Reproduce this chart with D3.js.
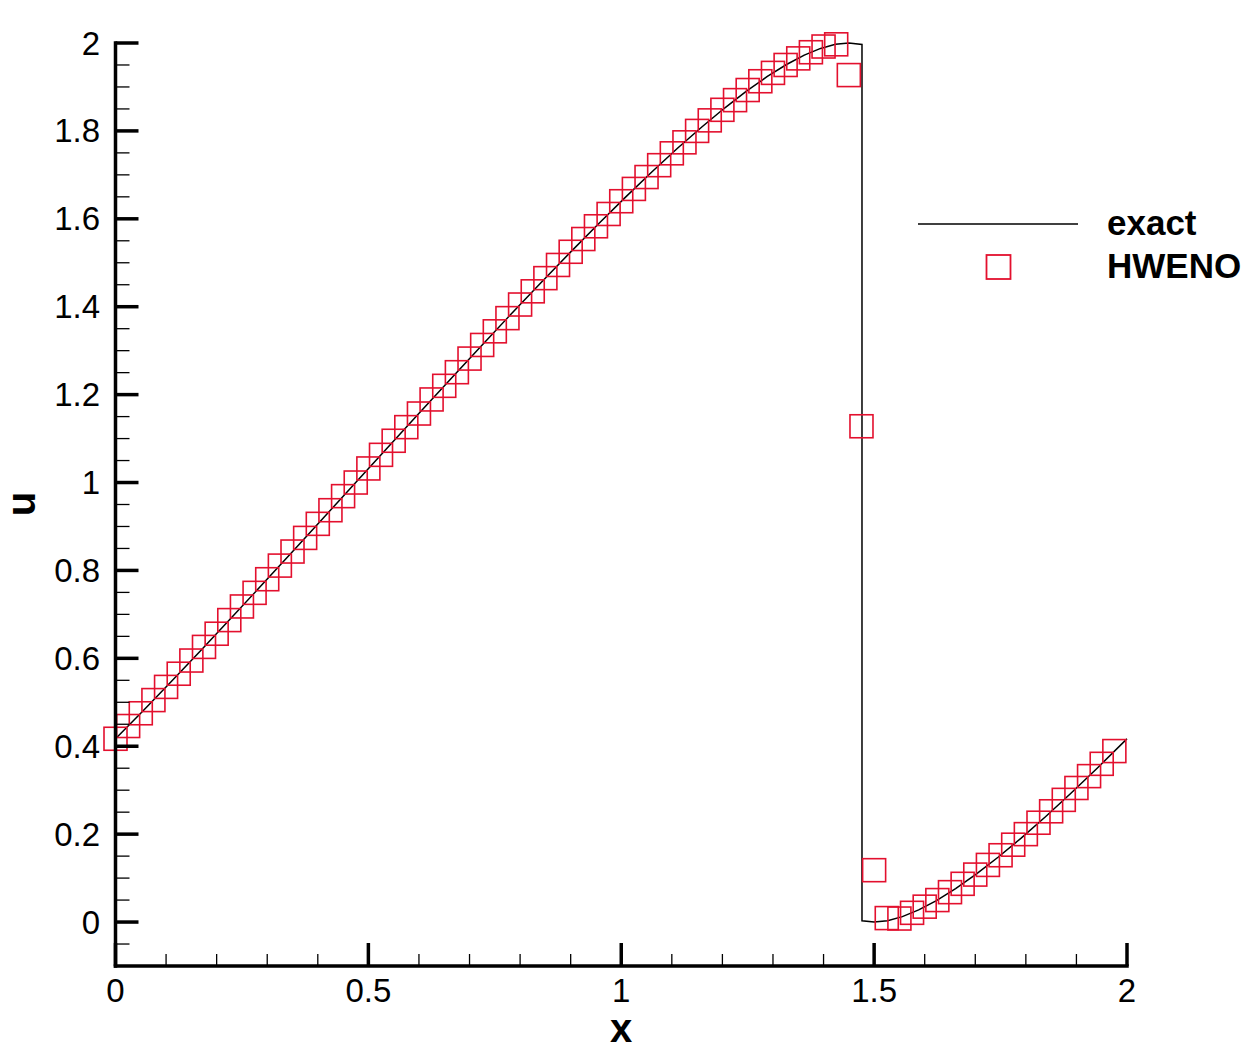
<!DOCTYPE html>
<html>
<head>
<meta charset="utf-8">
<script src="https://cdn.jsdelivr.net/npm/d3@7"></script>
<style>
  html, body { margin: 0; padding: 0; background: #fff; }
  svg { display: block; }
  text { font-family: "Liberation Sans", Arial, Helvetica, sans-serif; fill: #000; }
</style>
</head>
<body>
<svg id="chart" width="1250" height="1050"></svg>
<script>
// ---- data ----
const markerX = [
  0.000,0.025,0.050,0.075,0.100,0.125,0.150,0.175,0.200,0.225,
  0.250,0.275,0.300,0.325,0.350,0.375,0.400,0.425,0.450,0.475,
  0.500,0.525,0.550,0.575,0.600,0.625,0.650,0.675,0.700,0.725,
  0.750,0.775,0.800,0.825,0.850,0.875,0.900,0.925,0.950,0.975,
  1.000,1.025,1.050,1.075,1.100,1.125,1.150,1.175,1.200,1.225,
  1.250,1.275,1.300,1.325,1.350,1.375,1.400,1.425,1.450,1.475,
  1.500,1.525,1.550,1.575,1.600,1.625,1.650,1.675,1.700,1.725,
  1.750,1.775,1.800,1.825,1.850,1.875,1.900,1.925,1.950,1.975
];
const markerU = [
  0.417,0.446,0.475,0.505,0.535,0.565,0.595,0.626,0.656,0.687,
  0.718,0.749,0.780,0.811,0.843,0.874,0.906,0.937,0.969,1.000,
  1.032,1.063,1.095,1.126,1.157,1.189,1.220,1.251,1.282,1.313,
  1.344,1.374,1.405,1.435,1.465,1.495,1.525,1.554,1.583,1.611,
  1.640,1.668,1.695,1.722,1.749,1.774,1.800,1.824,1.848,1.870,
  1.893,1.913,1.932,1.950,1.965,1.979,1.992,1.997,1.927,1.128,
  0.118,0.009,0.008,0.021,0.035,0.050,0.068,0.087,0.108,0.130,
  0.152,0.176,0.200,0.226,0.252,0.278,0.305,0.332,0.360,0.389
];
const exactX = [
  0.0000,0.0518,0.1094,0.1682,0.2282,0.2891,0.3507,0.4127,0.4750,0.5373,
  0.5993,0.6609,0.7218,0.7818,0.8407,0.8982,0.9542,1.0085,1.0609,1.1112,
  1.1593,1.2050,1.2482,1.2889,1.3268,1.3619,1.3942,1.4235,1.4500,1.4760,
  1.4760,1.5000,1.5265,1.5558,1.5881,1.6232,1.6611,1.7018,1.7450,1.7907,
  1.8388,1.8891,1.9415,1.9958,2.0000
];
const exactU = [
  0.4171,0.4775,0.5460,0.6173,0.6910,0.7666,0.8436,0.9215,1.0000,1.0785,
  1.1564,1.2334,1.3090,1.3827,1.4540,1.5225,1.5878,1.6494,1.7071,1.7604,
  1.8090,1.8526,1.8910,1.9239,1.9511,1.9724,1.9877,1.9969,2.0000,1.9966,
  0.0030,0.0000,0.0031,0.0123,0.0276,0.0489,0.0761,0.1090,0.1474,0.1910,
  0.2396,0.2929,0.3506,0.4122,0.4171
];
const xTickValues = [0, 0.5, 1, 1.5, 2];
const xTickLabels = ["0", "0.5", "1", "1.5", "2"];
const yTickValues = [0, 0.2, 0.4, 0.6, 0.8, 1, 1.2, 1.4, 1.6, 1.8, 2];
const yTickLabels = ["0", "0.2", "0.4", "0.6", "0.8", "1", "1.2", "1.4", "1.6", "1.8", "2"];
const xMinor = [0.1,0.2,0.3,0.4,0.6,0.7,0.8,0.9,1.1,1.2,1.3,1.4,1.6,1.7,1.8,1.9];
const yMinor = [-0.05,0.05,0.1,0.15,0.25,0.3,0.35,0.45,0.5,0.55,0.65,0.7,0.75,0.85,0.9,0.95,
  1.05,1.1,1.15,1.25,1.3,1.35,1.45,1.5,1.55,1.65,1.7,1.75,1.85,1.9,1.95];
const seriesNames = ["exact", "HWENO"];

// ---- layout ----
const svg = d3.select("#chart");
const x = d3.scaleLinear().domain([0, 2]).range([115.5, 1127]);
const y = d3.scaleLinear().domain([-0.1, 2]).range([966, 43]);
const red = "#e3102e";
const sq = 23;

// exact line
const line = d3.line().x((d, i) => x(exactX[i])).y((d, i) => y(exactU[i]));
svg.append("path")
  .datum(exactU)
  .attr("d", line)
  .attr("fill", "none")
  .attr("stroke", "#000")
  .attr("stroke-width", 1.5);

// HWENO markers
svg.append("g").selectAll("rect")
  .data(markerU)
  .join("rect")
  .attr("x", (d, i) => x(markerX[i]) - sq / 2)
  .attr("y", d => y(d) - sq / 2)
  .attr("width", sq)
  .attr("height", sq)
  .attr("fill", "none")
  .attr("stroke", red)
  .attr("stroke-width", 1.6);

// axes
const axG = svg.append("g");
axG.append("line")
  .attr("x1", x(0) - 1.75).attr("x2", x(2) + 1.75)
  .attr("y1", y(-0.1)).attr("y2", y(-0.1))
  .attr("stroke", "#000").attr("stroke-width", 3.5);
axG.append("line")
  .attr("x1", x(0)).attr("x2", x(0))
  .attr("y1", y(2) - 1.75).attr("y2", y(-0.1) + 1.75)
  .attr("stroke", "#000").attr("stroke-width", 3.5);

// x ticks
axG.selectAll(".xmaj").data(xTickValues).join("line")
  .attr("x1", d => x(d)).attr("x2", d => x(d))
  .attr("y1", y(-0.1)).attr("y2", y(-0.1) - 23)
  .attr("stroke", "#000").attr("stroke-width", 3.5);
axG.selectAll(".xmin").data(xMinor).join("line")
  .attr("x1", d => x(d)).attr("x2", d => x(d))
  .attr("y1", y(-0.1)).attr("y2", y(-0.1) - 12)
  .attr("stroke", "#000").attr("stroke-width", 1.3);
axG.selectAll(".xlab").data(xTickValues).join("text")
  .attr("x", d => x(d)).attr("y", 1002)
  .attr("text-anchor", "middle")
  .attr("font-size", 33)
  .text((d, i) => xTickLabels[i]);

// y ticks
axG.selectAll(".ymaj").data(yTickValues).join("line")
  .attr("x1", x(0)).attr("x2", x(0) + 23)
  .attr("y1", d => y(d)).attr("y2", d => y(d))
  .attr("stroke", "#000").attr("stroke-width", 3.5);
axG.selectAll(".ymin").data(yMinor).join("line")
  .attr("x1", x(0)).attr("x2", x(0) + 14)
  .attr("y1", d => y(d)).attr("y2", d => y(d))
  .attr("stroke", "#000").attr("stroke-width", 1.3);
axG.selectAll(".ylab").data(yTickValues).join("text")
  .attr("x", 100).attr("y", d => y(d))
  .attr("dy", "0.35em")
  .attr("text-anchor", "end")
  .attr("font-size", 33)
  .text((d, i) => yTickLabels[i]);

// axis titles
svg.append("text")
  .attr("x", 621).attr("y", 1042)
  .attr("text-anchor", "middle")
  .attr("font-size", 40).attr("font-weight", "bold")
  .text("x");
svg.append("text")
  .attr("transform", "translate(35,504) rotate(-90)")
  .attr("text-anchor", "middle")
  .attr("font-size", 40).attr("font-weight", "bold")
  .text("u");

// legend
const leg = svg.append("g");
leg.append("line")
  .attr("x1", 918).attr("x2", 1078)
  .attr("y1", 224).attr("y2", 224)
  .attr("stroke", "#000").attr("stroke-width", 1.5);
leg.append("rect")
  .attr("x", 998.5 - 12).attr("y", 267 - 12)
  .attr("width", 24).attr("height", 24)
  .attr("fill", "none").attr("stroke", red).attr("stroke-width", 1.8);
leg.selectAll(".lt").data(seriesNames).join("text")
  .attr("x", 1107)
  .attr("y", (d, i) => i === 0 ? 235 : 278)
  .attr("font-size", 35).attr("font-weight", "bold")
  .text(d => d);
</script>
</body>
</html>
